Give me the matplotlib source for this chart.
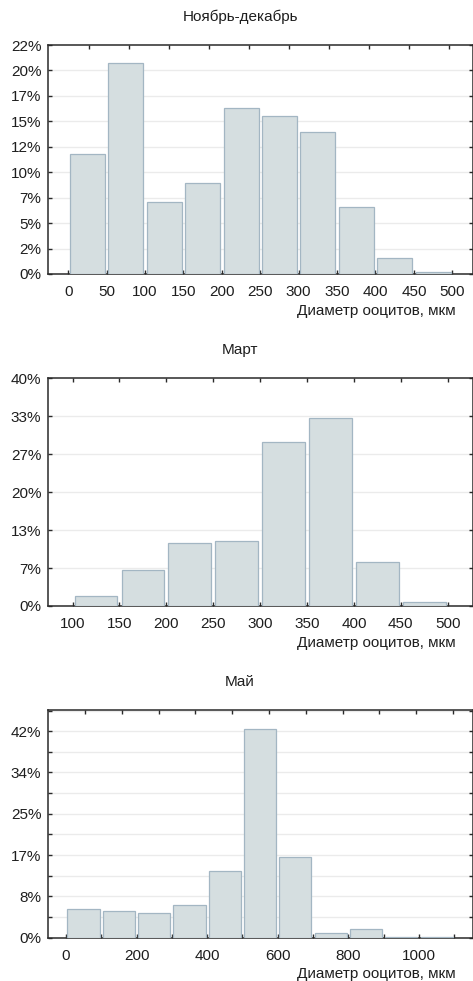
import numpy as np
import matplotlib
matplotlib.use('Agg')
import matplotlib.pyplot as plt

plt.rcParams['font.family'] = ['Liberation Sans', 'DejaVu Sans']
plt.rcParams['font.size'] = 11

# --- data (percent of oocytes per diameter class) ---
nov_edges = [0, 50, 100, 150, 200, 250, 300, 350, 400, 450, 500]
nov_values = [11.8, 20.7, 7.1, 8.9, 16.3, 15.5, 14.0, 6.6, 1.6, 0.15]
nov_yticks = ['0%', '2%', '5%', '7%', '10%', '12%', '15%', '17%', '20%', '22%']
nov_xticks = [0, 50, 100, 150, 200, 250, 300, 350, 400, 450, 500]

mar_edges = [100, 150, 200, 250, 300, 350, 400, 450, 500]
mar_values = [1.7, 6.3, 11.0, 11.4, 28.8, 33.0, 7.7, 0.65]
mar_yticks = ['0%', '7%', '13%', '20%', '27%', '33%', '40%']
mar_xticks = [100, 150, 200, 250, 300, 350, 400, 450, 500]

may_edges = [0, 100, 200, 300, 400, 500, 600, 700, 800, 900, 1000, 1100]
may_values = [5.8, 5.4, 5.0, 6.6, 13.6, 42.5, 16.5, 0.9, 1.7, 0.1, 0.1]
may_yticks = ['0%', '8%', '17%', '25%', '34%', '42%']
may_xticks = [0, 200, 400, 600, 800, 1000]

xlabel = 'Диаметр ооцитов, мкм'
BAR_FACE = '#d5dee0'
BAR_EDGE = '#a3b6c3'
GRID = '#ebebeb'
SPINE = '#2a2a2a'


def draw_panel(ax, edges, values, title, xlim, ylim, yticks, ylabels,
               xticks, xminor=None, yminor=None, top_ticks=None):
    edges = np.array(edges, dtype=float)
    centers = (edges[:-1] + edges[1:]) / 2
    widths = np.diff(edges) * 0.91
    ax.bar(centers, values, width=widths, color=BAR_FACE,
           edgecolor=BAR_EDGE, linewidth=0.9, zorder=3)

    ax.set_xlim(*xlim)
    ax.set_ylim(*ylim)
    ax.set_yticks(yticks)
    ax.set_yticklabels(ylabels)
    ax.set_xticks(xticks)
    ax.set_xticklabels([str(t) for t in xticks])
    if xminor is not None:
        ax.set_xticks(xminor, minor=True)
    if yminor is not None:
        ax.set_yticks(yminor, minor=True)

    grid_y = sorted(list(yticks) + list(yminor if yminor is not None else []))
    for y in grid_y:
        if 0 < y < ylim[1] - 1e-6:
            ax.axhline(y, color=GRID, linewidth=1.0, zorder=1)

    ax.tick_params(axis='both', which='both', direction='in', length=3,
                   width=1.0, color=SPINE, labelcolor='#1e1e1e')
    ax.tick_params(axis='y', which='both', right=True, pad=5)
    ax.tick_params(axis='x', which='both', top=(top_ticks is None), pad=8)
    for s in ax.spines.values():
        s.set_color(SPINE)
        s.set_linewidth(1.1)

    if top_ticks is not None:
        ax2 = ax.twiny()
        ax2.set_xlim(ax.get_xlim())
        ax2.set_xticks(top_ticks)
        ax2.tick_params(axis='x', direction='in', length=3, width=1.0,
                        color=SPINE, labeltop=False)
        for s in ax2.spines.values():
            s.set_visible(False)

    ax.text(0.452, 1.123, title, transform=ax.transAxes, ha='center',
            va='center', color='#1e1e1e')
    ax.text(0.961, -0.161, xlabel, transform=ax.transAxes, ha='right',
            va='center', color='#1e1e1e')


fig = plt.figure(figsize=(4.73, 9.81), dpi=100)
ax1 = fig.add_axes([0.102, 0.7207, 0.8973, 0.2334])
ax2 = fig.add_axes([0.102, 0.3823, 0.8973, 0.2321])
ax3 = fig.add_axes([0.102, 0.0442, 0.8973, 0.2320])

draw_panel(ax1, nov_edges, nov_values, 'Ноябрь-декабрь',
           (-26, 526.5), (0, 22.5), np.arange(0, 22.6, 2.5), nov_yticks,
           nov_xticks, top_ticks=np.linspace(27, 496, 10))

draw_panel(ax2, mar_edges, mar_values, 'Март',
           (74, 526.7), (0, 40), np.linspace(0, 40, 7), mar_yticks,
           mar_xticks)

may_major = np.arange(6) * 8.4
draw_panel(ax3, may_edges, may_values, 'Май',
           (-50, 1152), (0, 46.3), may_major, may_yticks,
           may_xticks, xminor=np.arange(100, 1101, 200),
           yminor=may_major + 4.2, top_ticks=np.linspace(54, 1096, 11))

fig.savefig('out.png', dpi=100)
